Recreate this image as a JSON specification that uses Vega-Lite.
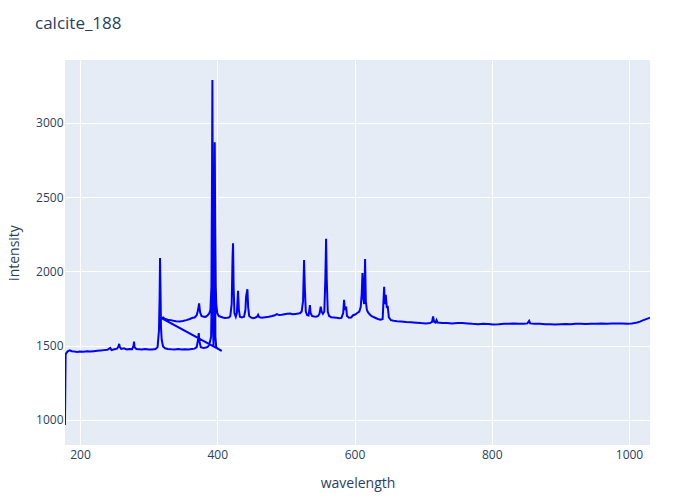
{
  "$schema": "https://vega.github.io/schema/vega-lite/v6.json",
  "width": 585,
  "height": 385,
  "autosize": "none",
  "padding": {"left": 65, "top": 60, "right": 50, "bottom": 55},
  "background": "white",
  "title": {"text": "calcite_188", "anchor": "start", "frame": "group", "dx": -30, "offset": 27, "fontSize": 17, "font": "Open Sans", "fontWeight": "normal", "color": "#2a3f5f"},
  "data": {"values": [
    {"wavelength": 178, "intensity": 965},
    {"wavelength": 179, "intensity": 1440},
    {"wavelength": 180, "intensity": 1450},
    {"wavelength": 182, "intensity": 1462},
    {"wavelength": 185, "intensity": 1468},
    {"wavelength": 188, "intensity": 1463},
    {"wavelength": 192, "intensity": 1460},
    {"wavelength": 196, "intensity": 1458},
    {"wavelength": 200, "intensity": 1461},
    {"wavelength": 205, "intensity": 1459},
    {"wavelength": 210, "intensity": 1462},
    {"wavelength": 215, "intensity": 1460},
    {"wavelength": 220, "intensity": 1463},
    {"wavelength": 225, "intensity": 1466},
    {"wavelength": 230, "intensity": 1468},
    {"wavelength": 235, "intensity": 1470},
    {"wavelength": 240, "intensity": 1472},
    {"wavelength": 244, "intensity": 1485},
    {"wavelength": 246, "intensity": 1470},
    {"wavelength": 250, "intensity": 1476},
    {"wavelength": 254, "intensity": 1480},
    {"wavelength": 256, "intensity": 1495},
    {"wavelength": 257, "intensity": 1512},
    {"wavelength": 258, "intensity": 1490},
    {"wavelength": 260, "intensity": 1478},
    {"wavelength": 264, "intensity": 1482},
    {"wavelength": 268, "intensity": 1475},
    {"wavelength": 272, "intensity": 1478},
    {"wavelength": 276, "intensity": 1476},
    {"wavelength": 278, "intensity": 1500},
    {"wavelength": 278.7, "intensity": 1527},
    {"wavelength": 279.5, "intensity": 1490},
    {"wavelength": 282, "intensity": 1478},
    {"wavelength": 286, "intensity": 1476},
    {"wavelength": 290, "intensity": 1474},
    {"wavelength": 295, "intensity": 1477},
    {"wavelength": 300, "intensity": 1475},
    {"wavelength": 305, "intensity": 1474},
    {"wavelength": 310, "intensity": 1477},
    {"wavelength": 313, "intensity": 1490},
    {"wavelength": 315, "intensity": 1600},
    {"wavelength": 316, "intensity": 1830},
    {"wavelength": 316.6, "intensity": 2090},
    {"wavelength": 317.2, "intensity": 1900},
    {"wavelength": 318, "intensity": 1620},
    {"wavelength": 319, "intensity": 1540},
    {"wavelength": 321, "intensity": 1495},
    {"wavelength": 324, "intensity": 1482},
    {"wavelength": 328, "intensity": 1478},
    {"wavelength": 333, "intensity": 1476},
    {"wavelength": 338, "intensity": 1475},
    {"wavelength": 343, "intensity": 1477},
    {"wavelength": 348, "intensity": 1474},
    {"wavelength": 353, "intensity": 1476},
    {"wavelength": 358, "intensity": 1475},
    {"wavelength": 363, "intensity": 1478},
    {"wavelength": 367, "intensity": 1480},
    {"wavelength": 370, "intensity": 1490},
    {"wavelength": 372, "intensity": 1540},
    {"wavelength": 373, "intensity": 1585},
    {"wavelength": 374, "intensity": 1530},
    {"wavelength": 376, "intensity": 1490},
    {"wavelength": 380, "intensity": 1485},
    {"wavelength": 384, "intensity": 1487},
    {"wavelength": 387, "intensity": 1495},
    {"wavelength": 389, "intensity": 1520},
    {"wavelength": 391, "intensity": 1560},
    {"wavelength": 392.3, "intensity": 1950},
    {"wavelength": 392.9, "intensity": 2600},
    {"wavelength": 393.5, "intensity": 1700},
    {"wavelength": 394.5, "intensity": 1500},
    {"wavelength": 395.5, "intensity": 1700},
    {"wavelength": 396.5, "intensity": 2200},
    {"wavelength": 397.3, "intensity": 1560},
    {"wavelength": 398.5, "intensity": 1490},
    {"wavelength": 401, "intensity": 1480},
    {"wavelength": 404, "intensity": 1470},
    {"wavelength": 406.5, "intensity": 1465},
    {"wavelength": 319, "intensity": 1685},
    {"wavelength": 321, "intensity": 1690},
    {"wavelength": 324, "intensity": 1680},
    {"wavelength": 328, "intensity": 1675},
    {"wavelength": 332, "intensity": 1672},
    {"wavelength": 336, "intensity": 1668},
    {"wavelength": 340, "intensity": 1665},
    {"wavelength": 345, "intensity": 1663},
    {"wavelength": 350, "intensity": 1666},
    {"wavelength": 355, "intensity": 1672},
    {"wavelength": 360, "intensity": 1680},
    {"wavelength": 364, "intensity": 1688},
    {"wavelength": 367, "intensity": 1690},
    {"wavelength": 370, "intensity": 1705},
    {"wavelength": 372, "intensity": 1740},
    {"wavelength": 373.5, "intensity": 1785},
    {"wavelength": 375, "intensity": 1725},
    {"wavelength": 377, "intensity": 1700},
    {"wavelength": 380, "intensity": 1695},
    {"wavelength": 383, "intensity": 1694},
    {"wavelength": 386, "intensity": 1705},
    {"wavelength": 388, "intensity": 1715},
    {"wavelength": 390, "intensity": 1740},
    {"wavelength": 391.5, "intensity": 1900},
    {"wavelength": 392.4, "intensity": 2700},
    {"wavelength": 392.9, "intensity": 3290},
    {"wavelength": 393.4, "intensity": 2400},
    {"wavelength": 394, "intensity": 1950},
    {"wavelength": 394.8, "intensity": 2200},
    {"wavelength": 395.6, "intensity": 2100},
    {"wavelength": 396.3, "intensity": 2870},
    {"wavelength": 397, "intensity": 2300},
    {"wavelength": 397.8, "intensity": 1900},
    {"wavelength": 398.6, "intensity": 1780},
    {"wavelength": 400, "intensity": 1720},
    {"wavelength": 402, "intensity": 1700},
    {"wavelength": 405, "intensity": 1695},
    {"wavelength": 408, "intensity": 1690},
    {"wavelength": 411, "intensity": 1687},
    {"wavelength": 414, "intensity": 1688},
    {"wavelength": 417, "intensity": 1690},
    {"wavelength": 419, "intensity": 1700},
    {"wavelength": 421, "intensity": 1780},
    {"wavelength": 422.3, "intensity": 2100},
    {"wavelength": 423, "intensity": 2190},
    {"wavelength": 423.8, "intensity": 1900},
    {"wavelength": 425, "intensity": 1720},
    {"wavelength": 427, "intensity": 1695},
    {"wavelength": 428.5, "intensity": 1720},
    {"wavelength": 430.3, "intensity": 1870},
    {"wavelength": 431.5, "intensity": 1740},
    {"wavelength": 433, "intensity": 1695},
    {"wavelength": 436, "intensity": 1690},
    {"wavelength": 439, "intensity": 1695},
    {"wavelength": 441, "intensity": 1740},
    {"wavelength": 442, "intensity": 1830},
    {"wavelength": 443.9, "intensity": 1880},
    {"wavelength": 445, "intensity": 1760},
    {"wavelength": 446.5, "intensity": 1700},
    {"wavelength": 449, "intensity": 1690},
    {"wavelength": 452, "intensity": 1685},
    {"wavelength": 455, "intensity": 1688},
    {"wavelength": 458, "intensity": 1695},
    {"wavelength": 459.5, "intensity": 1708},
    {"wavelength": 461, "intensity": 1692},
    {"wavelength": 465, "intensity": 1688},
    {"wavelength": 470, "intensity": 1692},
    {"wavelength": 475, "intensity": 1695},
    {"wavelength": 480, "intensity": 1700},
    {"wavelength": 484, "intensity": 1705},
    {"wavelength": 487, "intensity": 1712},
    {"wavelength": 490, "intensity": 1706},
    {"wavelength": 494, "intensity": 1708},
    {"wavelength": 498, "intensity": 1712},
    {"wavelength": 502, "intensity": 1715},
    {"wavelength": 506, "intensity": 1716},
    {"wavelength": 510, "intensity": 1712},
    {"wavelength": 514, "intensity": 1714},
    {"wavelength": 518, "intensity": 1716},
    {"wavelength": 521, "intensity": 1720},
    {"wavelength": 523, "intensity": 1730},
    {"wavelength": 525, "intensity": 1800},
    {"wavelength": 526.5, "intensity": 2077},
    {"wavelength": 527.5, "intensity": 1900},
    {"wavelength": 529, "intensity": 1730},
    {"wavelength": 531, "intensity": 1705},
    {"wavelength": 533, "intensity": 1703},
    {"wavelength": 534.2, "intensity": 1740},
    {"wavelength": 535, "intensity": 1774},
    {"wavelength": 536, "intensity": 1720},
    {"wavelength": 538, "intensity": 1700},
    {"wavelength": 541, "intensity": 1697},
    {"wavelength": 544, "intensity": 1695},
    {"wavelength": 547, "intensity": 1700},
    {"wavelength": 549, "intensity": 1715},
    {"wavelength": 550.8, "intensity": 1763},
    {"wavelength": 552, "intensity": 1730},
    {"wavelength": 554, "intensity": 1715},
    {"wavelength": 556, "intensity": 1730},
    {"wavelength": 557.5, "intensity": 1950},
    {"wavelength": 558.6, "intensity": 2220},
    {"wavelength": 559.5, "intensity": 1950},
    {"wavelength": 561, "intensity": 1730},
    {"wavelength": 563, "intensity": 1700},
    {"wavelength": 566, "intensity": 1692},
    {"wavelength": 570, "intensity": 1690},
    {"wavelength": 574, "intensity": 1688},
    {"wavelength": 578, "intensity": 1685},
    {"wavelength": 581, "intensity": 1687},
    {"wavelength": 583.5, "intensity": 1720},
    {"wavelength": 584.8, "intensity": 1808},
    {"wavelength": 586, "intensity": 1740},
    {"wavelength": 587.8, "intensity": 1763},
    {"wavelength": 589, "intensity": 1700},
    {"wavelength": 592, "intensity": 1688},
    {"wavelength": 595, "intensity": 1690},
    {"wavelength": 598, "intensity": 1705},
    {"wavelength": 601, "intensity": 1710},
    {"wavelength": 604, "intensity": 1720},
    {"wavelength": 607, "intensity": 1730},
    {"wavelength": 609, "intensity": 1760},
    {"wavelength": 610.5, "intensity": 1850},
    {"wavelength": 611.6, "intensity": 1990},
    {"wavelength": 612.8, "intensity": 1820},
    {"wavelength": 614, "intensity": 1780},
    {"wavelength": 615.4, "intensity": 2084},
    {"wavelength": 616.5, "intensity": 1800},
    {"wavelength": 618, "intensity": 1740},
    {"wavelength": 620, "intensity": 1722},
    {"wavelength": 622, "intensity": 1712},
    {"wavelength": 625, "intensity": 1698},
    {"wavelength": 630, "intensity": 1688},
    {"wavelength": 634, "intensity": 1680},
    {"wavelength": 638, "intensity": 1675},
    {"wavelength": 641, "intensity": 1680},
    {"wavelength": 642.2, "intensity": 1800},
    {"wavelength": 643.2, "intensity": 1896},
    {"wavelength": 644.2, "intensity": 1780},
    {"wavelength": 645.5, "intensity": 1842},
    {"wavelength": 647, "intensity": 1760},
    {"wavelength": 648.5, "intensity": 1761},
    {"wavelength": 650, "intensity": 1690},
    {"wavelength": 653, "intensity": 1672},
    {"wavelength": 657, "intensity": 1668},
    {"wavelength": 662, "intensity": 1665},
    {"wavelength": 668, "intensity": 1663},
    {"wavelength": 675, "intensity": 1660},
    {"wavelength": 682, "intensity": 1658},
    {"wavelength": 690, "intensity": 1655},
    {"wavelength": 697, "intensity": 1652},
    {"wavelength": 704, "intensity": 1650},
    {"wavelength": 710, "intensity": 1652},
    {"wavelength": 713, "intensity": 1660},
    {"wavelength": 714.5, "intensity": 1697},
    {"wavelength": 716, "intensity": 1660},
    {"wavelength": 718, "intensity": 1655},
    {"wavelength": 719.5, "intensity": 1672},
    {"wavelength": 721, "intensity": 1656},
    {"wavelength": 728, "intensity": 1653},
    {"wavelength": 735, "intensity": 1652},
    {"wavelength": 742, "intensity": 1650},
    {"wavelength": 750, "intensity": 1653},
    {"wavelength": 757, "intensity": 1652},
    {"wavelength": 765, "intensity": 1650},
    {"wavelength": 772, "intensity": 1647},
    {"wavelength": 780, "intensity": 1645},
    {"wavelength": 787, "intensity": 1648},
    {"wavelength": 795, "intensity": 1646},
    {"wavelength": 802, "intensity": 1643},
    {"wavelength": 810, "intensity": 1645},
    {"wavelength": 818, "intensity": 1648},
    {"wavelength": 825, "intensity": 1647},
    {"wavelength": 832, "intensity": 1650},
    {"wavelength": 840, "intensity": 1648},
    {"wavelength": 847, "intensity": 1647},
    {"wavelength": 852, "intensity": 1650},
    {"wavelength": 854.5, "intensity": 1667},
    {"wavelength": 856, "intensity": 1650},
    {"wavelength": 862, "intensity": 1648},
    {"wavelength": 870, "intensity": 1647},
    {"wavelength": 878, "intensity": 1645},
    {"wavelength": 885, "intensity": 1644},
    {"wavelength": 892, "intensity": 1642},
    {"wavelength": 900, "intensity": 1645},
    {"wavelength": 908, "intensity": 1646},
    {"wavelength": 915, "intensity": 1644},
    {"wavelength": 922, "intensity": 1647},
    {"wavelength": 930, "intensity": 1648},
    {"wavelength": 937, "intensity": 1646},
    {"wavelength": 945, "intensity": 1648},
    {"wavelength": 952, "intensity": 1647},
    {"wavelength": 960, "intensity": 1649},
    {"wavelength": 968, "intensity": 1648},
    {"wavelength": 975, "intensity": 1650},
    {"wavelength": 982, "intensity": 1649},
    {"wavelength": 990, "intensity": 1650},
    {"wavelength": 997, "intensity": 1648},
    {"wavelength": 1004, "intensity": 1650},
    {"wavelength": 1008, "intensity": 1652},
    {"wavelength": 1012, "intensity": 1656},
    {"wavelength": 1016, "intensity": 1662},
    {"wavelength": 1020, "intensity": 1670},
    {"wavelength": 1024, "intensity": 1677},
    {"wavelength": 1027, "intensity": 1682},
    {"wavelength": 1030.5, "intensity": 1688}
  ]},
  "mark": {"type": "line", "color": "#0000ff", "strokeWidth": 2, "clip": true},
  "encoding": {
    "x": {"field": "wavelength", "type": "quantitative", "scale": {"domain": [178.1, 1030.6], "nice": false, "zero": false},
      "axis": {"values": [200, 400, 600, 800, 1000], "format": "d", "title": "wavelength", "labelPadding": 4, "titlePadding": 16}},
    "y": {"field": "intensity", "type": "quantitative", "scale": {"domain": [831, 3424], "nice": false, "zero": false},
      "axis": {"values": [1000, 1500, 2000, 2500, 3000], "format": "d", "title": "intensity", "labelPadding": 2, "titlePadding": 14}},
    "order": {"value": null}
  },
  "config": {
    "view": {"fill": "#E5ECF6", "stroke": null},
    "axis": {"domain": false, "ticks": false, "grid": true, "gridColor": "white", "gridWidth": 1, "gridOpacity": 1,
      "labelFont": "Open Sans", "labelFontSize": 12, "labelColor": "#2a3f5f",
      "titleFont": "Open Sans", "titleFontSize": 14, "titleColor": "#2a3f5f", "titleFontWeight": "normal"}
  }
}
